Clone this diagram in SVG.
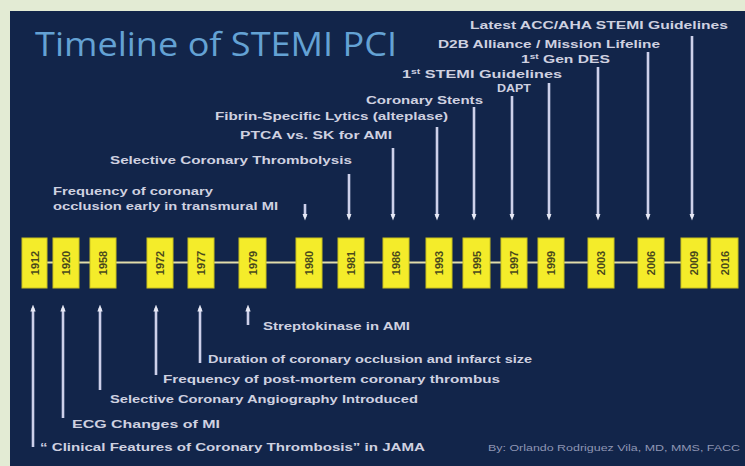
<svg xmlns="http://www.w3.org/2000/svg" width="745" height="466" viewBox="0 0 745 466">
  <defs>
    <style>
      .lbl { font-family: "Liberation Sans", Arial, sans-serif; font-size: 11px; font-weight: bold; fill: #cfd1e0; }
      .yr { font-family: "Liberation Sans", Arial, sans-serif; font-size: 11px; font-weight: bold; fill: #4b4a1c; text-anchor: middle; }
      .box { fill: #f4ec2a; stroke: #c9c11e; stroke-width: 1; }
      .arr { stroke: #cdd0ea; stroke-width: 2.6; fill: none; marker-end: url(#head); }
      .title { font-family: "Open Sans", "Liberation Sans", sans-serif; font-size: 32px; fill: #64a2d4; }
    </style>
    <marker id="head" viewBox="0 0 8 8" refX="4" refY="4" markerWidth="7" markerHeight="7" markerUnits="userSpaceOnUse" orient="auto">
      <path d="M0,1 L8,4 L0,7 z" fill="#e6e8f4"/>
    </marker>
  </defs>

  <rect x="0" y="0" width="745" height="466" fill="#e3ebd4"/>
  <rect x="10" y="11" width="735" height="455" fill="#12254a"/>

  <text class="title" x="35" y="56" textLength="362" lengthAdjust="spacingAndGlyphs">Timeline of STEMI PCI</text>

  <g id="timeline-line">
    <line x1="22" y1="262.5" x2="738" y2="262.5" stroke="#e0dcaa" stroke-width="2"/>
  </g>

  <g id="year-1912"><rect class="box" x="22" y="238" width="25" height="50"/><text class="yr" transform="translate(34.5,263) rotate(-90)" y="4">1912</text></g>
  <g id="year-1920"><rect class="box" x="53" y="238" width="26" height="50"/><text class="yr" transform="translate(66,263) rotate(-90)" y="4">1920</text></g>
  <g id="year-1958"><rect class="box" x="90" y="238" width="26" height="50"/><text class="yr" transform="translate(103,263) rotate(-90)" y="4">1958</text></g>
  <g id="year-1972"><rect class="box" x="147" y="238" width="26" height="50"/><text class="yr" transform="translate(160,263) rotate(-90)" y="4">1972</text></g>
  <g id="year-1977"><rect class="box" x="188" y="238" width="26" height="50"/><text class="yr" transform="translate(201,263) rotate(-90)" y="4">1977</text></g>
  <g id="year-1979"><rect class="box" x="239" y="238" width="27" height="50"/><text class="yr" transform="translate(252.5,263) rotate(-90)" y="4">1979</text></g>
  <g id="year-1980"><rect class="box" x="296" y="238" width="26" height="50"/><text class="yr" transform="translate(309,263) rotate(-90)" y="4">1980</text></g>
  <g id="year-1981"><rect class="box" x="338" y="238" width="26" height="50"/><text class="yr" transform="translate(351,263) rotate(-90)" y="4">1981</text></g>
  <g id="year-1986"><rect class="box" x="383" y="238" width="26" height="50"/><text class="yr" transform="translate(396,263) rotate(-90)" y="4">1986</text></g>
  <g id="year-1993"><rect class="box" x="426" y="238" width="26" height="50"/><text class="yr" transform="translate(439,263) rotate(-90)" y="4">1993</text></g>
  <g id="year-1995"><rect class="box" x="463" y="238" width="27" height="50"/><text class="yr" transform="translate(476.5,263) rotate(-90)" y="4">1995</text></g>
  <g id="year-1997"><rect class="box" x="501" y="238" width="26" height="50"/><text class="yr" transform="translate(514,263) rotate(-90)" y="4">1997</text></g>
  <g id="year-1999"><rect class="box" x="538" y="238" width="26" height="50"/><text class="yr" transform="translate(551,263) rotate(-90)" y="4">1999</text></g>
  <g id="year-2003"><rect class="box" x="588" y="238" width="26" height="50"/><text class="yr" transform="translate(601,263) rotate(-90)" y="4">2003</text></g>
  <g id="year-2006"><rect class="box" x="638" y="238" width="26" height="50"/><text class="yr" transform="translate(651,263) rotate(-90)" y="4">2006</text></g>
  <g id="year-2009"><rect class="box" x="681" y="238" width="26" height="50"/><text class="yr" transform="translate(694,263) rotate(-90)" y="4">2009</text></g>
  <g id="year-2016"><rect class="box" x="711" y="238" width="27" height="50"/><text class="yr" transform="translate(724.5,263) rotate(-90)" y="4">2016</text></g>

  <g id="connectors">
    <line class="arr" x1="305" y1="204" x2="305" y2="217"/>
    <line class="arr" x1="349" y1="174" x2="349" y2="217"/>
    <line class="arr" x1="393" y1="148" x2="393" y2="217"/>
    <line class="arr" x1="437" y1="127" x2="437" y2="217"/>
    <line class="arr" x1="474" y1="107" x2="474" y2="217"/>
    <line class="arr" x1="512" y1="96" x2="512" y2="217"/>
    <line class="arr" x1="549" y1="83" x2="549" y2="217"/>
    <line class="arr" x1="598" y1="67" x2="598" y2="217"/>
    <line class="arr" x1="648" y1="52" x2="648" y2="217"/>
    <line class="arr" x1="692" y1="36" x2="692" y2="217"/>

    <line class="arr" x1="33" y1="447" x2="33" y2="308"/>
    <line class="arr" x1="63" y1="418" x2="63" y2="308"/>
    <line class="arr" x1="100" y1="390" x2="100" y2="308"/>
    <line class="arr" x1="156" y1="375" x2="156" y2="308"/>
    <line class="arr" x1="200" y1="363" x2="200" y2="308"/>
    <line class="arr" x1="248" y1="325" x2="248" y2="308"/>
  </g>

  <g id="label-2009"><text class="lbl" x="470" y="29" textLength="258" lengthAdjust="spacingAndGlyphs">Latest ACC/AHA STEMI Guidelines</text></g>
  <g id="label-2006"><text class="lbl" x="438" y="48" textLength="222" lengthAdjust="spacingAndGlyphs">D2B Alliance / Mission Lifeline</text></g>
  <g id="label-2003"><text class="lbl" x="521" y="63" textLength="89" lengthAdjust="spacingAndGlyphs">1<tspan font-size="7" dy="-4">st</tspan><tspan dy="4"> Gen DES</tspan></text></g>
  <g id="label-1999"><text class="lbl" x="402" y="78" textLength="160" lengthAdjust="spacingAndGlyphs">1<tspan font-size="7" dy="-4">st</tspan><tspan dy="4"> STEMI Guidelines</tspan></text></g>
  <g id="label-1997"><text class="lbl" x="497" y="92" textLength="34" lengthAdjust="spacingAndGlyphs">DAPT</text></g>
  <g id="label-1995"><text class="lbl" x="366" y="104" textLength="117" lengthAdjust="spacingAndGlyphs">Coronary Stents</text></g>
  <g id="label-1993"><text class="lbl" x="215" y="120" textLength="233" lengthAdjust="spacingAndGlyphs">Fibrin-Specific Lytics (alteplase)</text></g>
  <g id="label-1986"><text class="lbl" x="240" y="139" textLength="152" lengthAdjust="spacingAndGlyphs">PTCA vs. SK for AMI</text></g>
  <g id="label-1981"><text class="lbl" x="110" y="164" textLength="242" lengthAdjust="spacingAndGlyphs">Selective Coronary Thrombolysis</text></g>
  <g id="label-1980">
    <text class="lbl" x="53" y="195" textLength="160" lengthAdjust="spacingAndGlyphs">Frequency of coronary</text>
    <text class="lbl" x="53" y="210" textLength="225" lengthAdjust="spacingAndGlyphs">occlusion early in transmural MI</text>
  </g>

  <g id="label-1979"><text class="lbl" x="263" y="330" textLength="147" lengthAdjust="spacingAndGlyphs">Streptokinase in AMI</text></g>
  <g id="label-1977"><text class="lbl" x="208" y="363" textLength="324" lengthAdjust="spacingAndGlyphs">Duration of coronary occlusion and infarct size</text></g>
  <g id="label-1972"><text class="lbl" x="163" y="383" textLength="337" lengthAdjust="spacingAndGlyphs">Frequency of post-mortem  coronary thrombus</text></g>
  <g id="label-1958"><text class="lbl" x="110" y="403" textLength="308" lengthAdjust="spacingAndGlyphs">Selective Coronary Angiography Introduced</text></g>
  <g id="label-1920"><text class="lbl" x="72" y="428" textLength="148" lengthAdjust="spacingAndGlyphs">ECG Changes of MI</text></g>
  <g id="label-1912"><text class="lbl" x="40" y="451" textLength="385" lengthAdjust="spacingAndGlyphs">“ Clinical Features of Coronary Thrombosis” in JAMA</text></g>

  <text x="488" y="451" font-family="Liberation Sans, Arial, sans-serif" font-size="8.5" fill="#8f96b4" textLength="252" lengthAdjust="spacingAndGlyphs">By: Orlando Rodriguez Vila, MD, MMS, FACC</text>
</svg>
